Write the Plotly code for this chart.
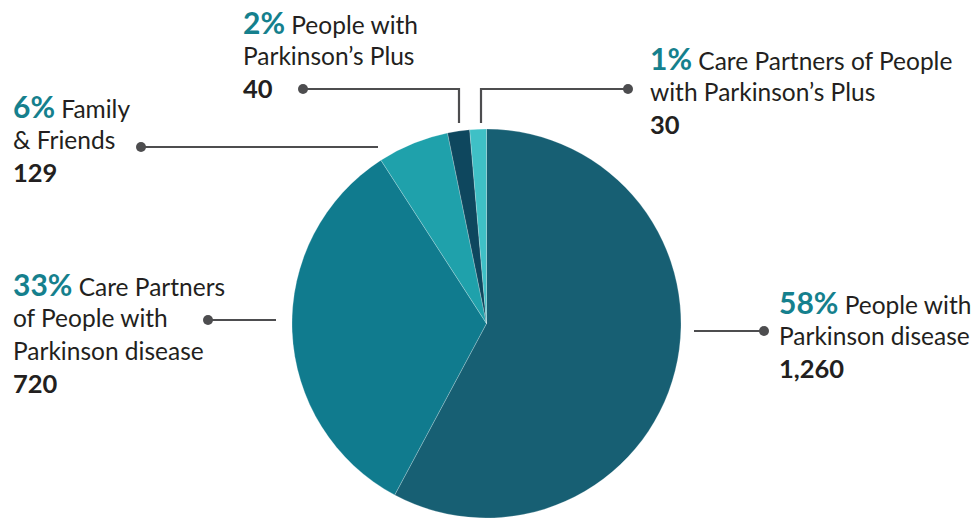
import plotly.graph_objects as go

# ---- data ----
categories = ["People with Parkinson disease",
              "Care Partners of People with Parkinson disease",
              "Family & Friends",
              "People with Parkinson’s Plus",
              "Care Partners of People with Parkinson’s Plus"]
values = [1260, 720, 129, 40, 30]
slice_colors = ["#175f73", "#107b8e", "#1fa1ab", "#0e475e", "#3fc0c6"]
# label text lines (description split as in the chart)
label_lines = [
    ["People with", "Parkinson disease"],
    ["Care Partners", "of People with", "Parkinson disease"],
    ["Family", "& Friends"],
    ["People with", "Parkinson’s Plus"],
    ["Care Partners of People", "with Parkinson’s Plus"],
]

W, H = 979, 518
total = sum(values)
pcts = [round(v / total * 100) for v in values]

def px(x):
    return x / W

def py(y):
    return 1 - y / H

fig = go.Figure()
fig.add_trace(go.Pie(
    labels=categories, values=values, sort=False, direction="clockwise",
    rotation=0, textinfo="none", hoverinfo="label+value+percent",
    marker=dict(colors=slice_colors, line=dict(color="rgba(255,255,255,0.45)", width=0.5)),
    domain=dict(x=[px(292), px(681)], y=[0, py(129)]),
    showlegend=False,
))

TXT = "#231f20"
PCT = "#15808d"
FONT = "Lato"
FS = 24.5
PFS = 30
LINE_GAP = 32.5

# label block placements (left x, center y of first line)
placements = [(777, 302), (11, 284), (11, 106), (241, 22), (648, 58)]

anns = []
for i, (x0, y0) in enumerate(placements):
    lines = label_lines[i]
    rows = [f"<span style='color:{PCT};font-size:{PFS}px'><b>{pcts[i]}%</b></span> {lines[0]}"]
    rows += lines[1:]
    rows.append(f"<span style='font-size:{FS + 1}px'><b>{values[i]:,}</b></span>")
    for j, r in enumerate(rows):
        yy = y0 + j * LINE_GAP + (1 if j > 0 else 0)
        anns.append(dict(x=px(x0), y=py(yy), xref="paper", yref="paper",
                         xanchor="left", yanchor="middle", showarrow=False, text=r,
                         font=dict(family=FONT, size=FS, color=TXT)))

LC = "#4d4d4f"
paths = [
    [(303, 89), (459, 89), (459, 123)],
    [(481, 123), (481, 89), (628, 89)],
    [(141, 147), (378, 147)],
    [(208, 320), (276, 320)],
    [(694, 331), (764, 331)],
]
dots = [(303, 89), (628, 89), (141, 147), (208, 320), (764, 331)]
shapes = []
for p in paths:
    d = "M " + " L ".join(f"{px(a)},{py(b)}" for a, b in p)
    shapes.append(dict(type="path", path=d, xref="paper", yref="paper",
                       line=dict(color=LC, width=2.2)))
for (a, b) in dots:
    r = 5
    shapes.append(dict(type="circle", xref="paper", yref="paper",
                       x0=px(a - r), x1=px(a + r), y0=py(b + r), y1=py(b - r),
                       fillcolor=LC, line=dict(width=0)))

fig.update_layout(width=W, height=H, margin=dict(l=0, r=0, t=0, b=0),
                  paper_bgcolor="white", plot_bgcolor="white",
                  annotations=anns, shapes=shapes)
fig.write_html("out.html")
